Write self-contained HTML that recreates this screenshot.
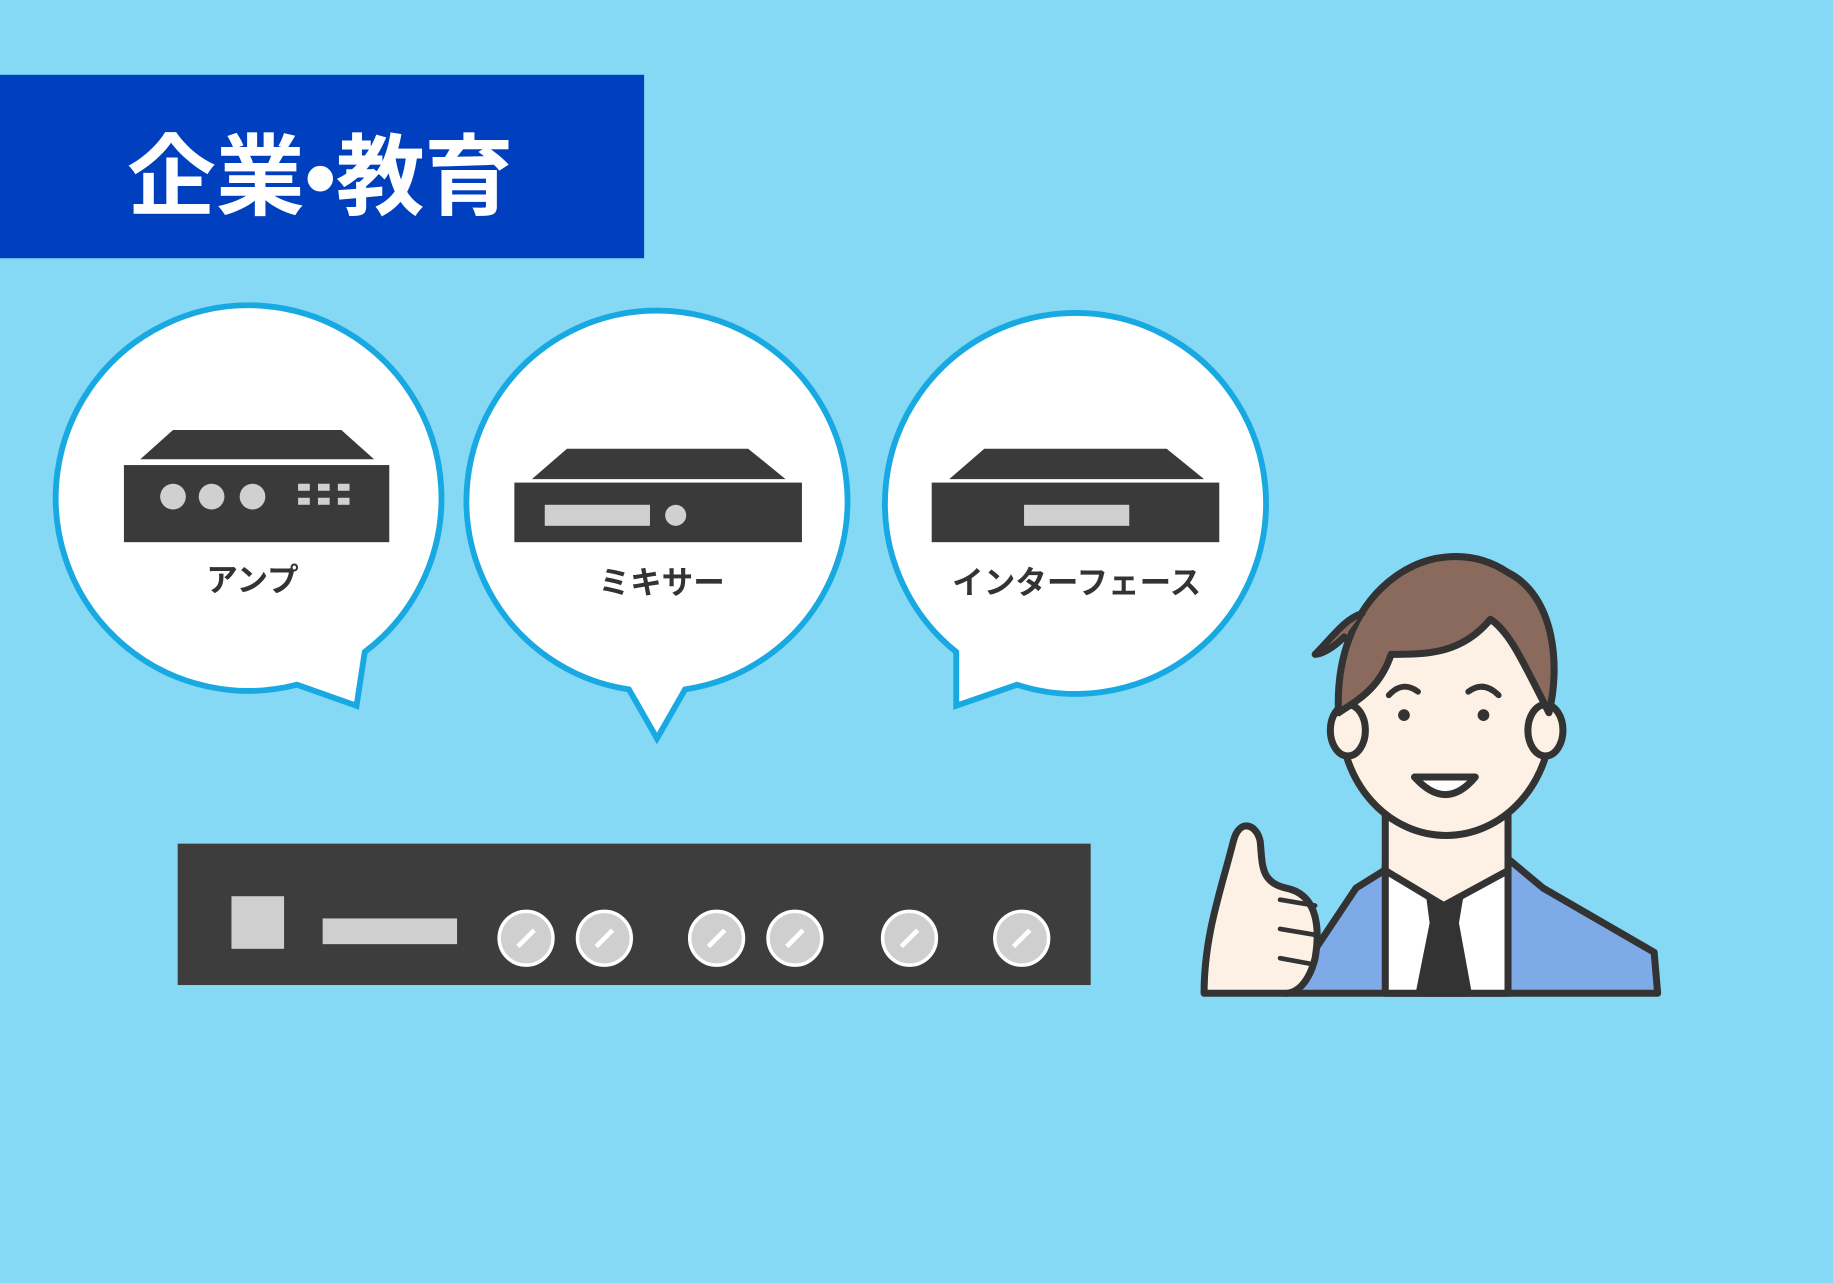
<!DOCTYPE html>
<html><head><meta charset="utf-8"><style>
html,body{margin:0;padding:0;width:1833px;height:1283px;overflow:hidden;background:#86D9F5;}
svg{display:block}
text{font-family:"Liberation Sans","Noto Sans CJK JP",sans-serif;}
</style></head><body>
<svg width="1833" height="1283" viewBox="0 0 1568 1098" preserveAspectRatio="none" xmlns="http://www.w3.org/2000/svg">
<rect width="1568" height="1098" fill="#86D9F5"/>
<rect x="0" y="64" width="551" height="157" fill="#0040BF"/>
<text x="274" y="178" font-size="76" font-weight="bold" fill="#fff" text-anchor="middle">企業•教育</text>

<!-- bubbles -->
<g fill="#fff" stroke="#18A9E2" stroke-width="5">
<path d="M 254 586 A 165 165 0 1 1 312 558 L 305 604 Z"/>
<path d="M 538 590 A 163 163 0 1 1 586 590 L 562 632 Z"/>
<path d="M 818 558 A 163 163 0 1 1 870 586 L 818 604 Z"/>
</g>
<g fill="#fff">
<path d="M 256 582 L 308 560 L 302 600 Z"/>
<path d="M 540 585 L 584 585 L 562 626 Z"/>
<path d="M 821 560 L 866 582 L 821 600 Z"/>
</g>

<!-- amp -->
<polygon points="120,393 148,368 292,368 320,393" fill="#3a3a3a"/>
<rect x="106" y="398" width="227" height="66" fill="#3a3a3a"/>
<g fill="#d0d0d0"><circle cx="148" cy="425" r="11"/><circle cx="181" cy="425" r="11"/><circle cx="216" cy="425" r="11"/>
<rect x="255" y="414" width="10" height="6"/><rect x="272" y="414" width="10" height="6"/><rect x="289" y="414" width="10" height="6"/>
<rect x="255" y="426" width="10" height="6"/><rect x="272" y="426" width="10" height="6"/><rect x="289" y="426" width="10" height="6"/></g>
<text x="216" y="506" font-size="27" font-weight="bold" fill="#333" text-anchor="middle">アンプ</text>

<!-- mixer -->
<polygon points="455,410 485,384 640,384 672,410" fill="#3a3a3a"/>
<rect x="440" y="413" width="246" height="51" fill="#3a3a3a"/>
<rect x="466" y="432" width="90" height="18" fill="#d0d0d0"/>
<circle cx="578" cy="441" r="9" fill="#d0d0d0"/>
<text x="566" y="508" font-size="27" font-weight="bold" fill="#333" text-anchor="middle">ミキサー</text>

<!-- interface -->
<polygon points="812,410 842,384 998,384 1030,410" fill="#3a3a3a"/>
<rect x="797" y="413" width="246" height="51" fill="#3a3a3a"/>
<rect x="876" y="432" width="90" height="18" fill="#d0d0d0"/>
<text x="921" y="508" font-size="27" font-weight="bold" fill="#333" text-anchor="middle">インターフェース</text>

<!-- big device -->
<rect x="152" y="722" width="781" height="121" fill="#3d3d3d"/>
<rect x="198" y="767" width="45" height="45" fill="#cfcfcf"/>
<rect x="276" y="786" width="115" height="22" fill="#cfcfcf"/>
<g fill="#cfcfcf" stroke="#fff" stroke-width="3">
<circle cx="450" cy="803" r="23"/><circle cx="517" cy="803" r="23"/><circle cx="613" cy="803" r="23"/><circle cx="680" cy="803" r="23"/><circle cx="778" cy="803" r="23"/><circle cx="874" cy="803" r="23"/>
</g>
<g stroke="#fff" stroke-width="4">
<line x1="443" y1="810" x2="457" y2="796"/><line x1="510" y1="810" x2="524" y2="796"/><line x1="606" y1="810" x2="620" y2="796"/><line x1="673" y1="810" x2="687" y2="796"/><line x1="771" y1="810" x2="785" y2="796"/><line x1="867" y1="810" x2="881" y2="796"/>
</g>

<!-- person -->
<g stroke="#333" stroke-width="6" stroke-linejoin="round" stroke-linecap="round">
<path d="M 1100 850 L 1160 760 L 1200 735 L 1290 735 L 1320 760 L 1415 815 L 1418 850 Z" fill="#7FAAE8"/>
<path d="M 1185 740 L 1235 775 L 1290 740 L 1290 850 L 1185 850 Z" fill="#fff"/>
<path d="M 1222 760 L 1250 760 L 1245 790 L 1256 850 L 1214 850 L 1226 790 Z" fill="#333"/>
<path d="M 1185 690 L 1185 745 L 1235 775 L 1290 745 L 1290 690 Z" fill="#FDF0E4"/>
<ellipse cx="1237" cy="615" rx="90" ry="100" fill="#FDF0E4"/>
<ellipse cx="1153" cy="625" rx="15" ry="22" fill="#FDF0E4"/>
<ellipse cx="1322" cy="625" rx="15" ry="22" fill="#FDF0E4"/>
<path d="M 1145 610 C 1140 500 1230 450 1290 490 C 1330 510 1335 570 1325 610 C 1300 560 1290 540 1275 530 C 1250 560 1220 560 1190 560 C 1180 590 1160 600 1145 610 Z" fill="#8B6A5E"/>
<path d="M 1150 545 C 1140 555 1130 560 1125 560 C 1140 545 1150 530 1165 525" fill="#8B6A5E"/>
<path d="M 1210 665 Q 1237 695 1262 665 Z" fill="#fff"/>
<path d="M 1030 850 C 1030 800 1045 760 1055 720 C 1060 700 1075 705 1078 720 C 1080 740 1078 755 1100 760 C 1125 765 1130 790 1125 820 C 1120 840 1110 850 1100 850 Z" fill="#FDF0E4"/>
<path d="M 1095 770 L 1125 775 M 1095 795 L 1125 800 M 1095 820 L 1122 825" fill="none" stroke-width="4"/>
</g>
<g fill="#333"><circle cx="1201" cy="612" r="5"/><circle cx="1269" cy="612" r="5"/></g>
<g fill="none" stroke="#333" stroke-width="5" stroke-linecap="round">
<path d="M 1188 595 Q 1200 582 1213 592"/><path d="M 1256 592 Q 1269 582 1282 595"/>
</g>
</svg>
</body></html>
